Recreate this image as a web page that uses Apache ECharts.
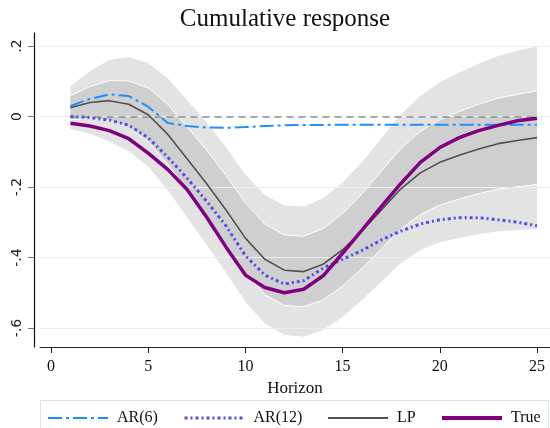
<!DOCTYPE html>
<html><head><meta charset="utf-8">
<script src="https://cdn.jsdelivr.net/npm/echarts@6/dist/echarts.min.js"></script>
<style>html,body{margin:0;padding:0;background:#fff}#c{width:550px;height:428px}</style>
</head><body><div id="c"></div>
<script>
const horizons = [1,2,3,4,5,6,7,8,9,10,11,12,13,14,15,16,17,18,19,20,21,22,23,24,25];
const ar6 = [0.030,0.050,0.063,0.058,0.028,-0.018,-0.027,-0.031,-0.032,-0.030,-0.027,-0.025,-0.024,-0.024,-0.023,-0.023,-0.023,-0.023,-0.023,-0.023,-0.023,-0.023,-0.023,-0.023,-0.023];
const ar12 = [0.000,-0.003,-0.010,-0.025,-0.060,-0.115,-0.175,-0.240,-0.310,-0.395,-0.450,-0.475,-0.466,-0.430,-0.405,-0.380,-0.350,-0.325,-0.305,-0.293,-0.287,-0.287,-0.293,-0.300,-0.310];
const lp = [0.025,0.040,0.045,0.035,0.005,-0.050,-0.120,-0.190,-0.265,-0.345,-0.405,-0.436,-0.440,-0.419,-0.378,-0.325,-0.265,-0.205,-0.160,-0.130,-0.110,-0.092,-0.077,-0.068,-0.060];
const truth = [-0.019,-0.027,-0.040,-0.063,-0.104,-0.150,-0.207,-0.285,-0.370,-0.450,-0.485,-0.500,-0.490,-0.452,-0.388,-0.322,-0.255,-0.190,-0.130,-0.088,-0.060,-0.040,-0.025,-0.012,-0.005];
const innerUp = [0.059,0.085,0.102,0.101,0.081,0.035,-0.030,-0.095,-0.167,-0.245,-0.305,-0.336,-0.340,-0.318,-0.275,-0.219,-0.155,-0.091,-0.042,-0.009,0.014,0.035,0.052,0.063,0.073];
const innerLo = [-0.009,-0.005,-0.012,-0.031,-0.071,-0.135,-0.210,-0.285,-0.363,-0.445,-0.505,-0.536,-0.540,-0.520,-0.481,-0.431,-0.375,-0.319,-0.278,-0.251,-0.234,-0.219,-0.206,-0.199,-0.193];
const outerUp = [0.087,0.130,0.162,0.170,0.153,0.110,0.048,-0.015,-0.085,-0.163,-0.221,-0.251,-0.254,-0.231,-0.186,-0.128,-0.060,0.007,0.060,0.098,0.126,0.151,0.173,0.188,0.200];
const outerLo = [-0.037,-0.050,-0.072,-0.100,-0.143,-0.210,-0.288,-0.365,-0.445,-0.527,-0.589,-0.621,-0.626,-0.607,-0.570,-0.522,-0.470,-0.417,-0.380,-0.358,-0.346,-0.335,-0.327,-0.324,-0.320];
const zeroRef = 0;
const xTickVals = [0,5,10,15,20,25];
const yTickVals = [-0.6,-0.4,-0.2,0,0.2];
const yTickLabels = ['-.6','-.4','-.2','0','.2'];
const seriesNames = ['AR(6)','AR(12)','LP','True'];

const pair = (ys) => horizons.map((h,i)=>[h, ys[i]]);
const serif = 'Liberation Serif';
const lightBand = '#e3e3e3', darkBand = '#cfcfcf';

const chart = echarts.init(document.getElementById('c'), null, {renderer:'canvas'});

function bandRender(params, api){
  if (params.dataIndex !== 0) return null;
  const pts = (arr) => horizons.map((h,i)=>api.coord([h, arr[i]]));
  const oU = pts(outerUp), oL = pts(outerLo), iU = pts(innerUp), iL = pts(innerLo);
  const edge = (p) => ({type:'polyline', shape:{points:p}, style:{stroke:'#fff', lineWidth:1, fill:null}});
  return {type:'group', children:[
    {type:'polygon', shape:{points:oU.concat(oL.slice().reverse())}, style:{fill:lightBand}},
    {type:'polygon', shape:{points:iU.concat(iL.slice().reverse())}, style:{fill:darkBand}},
    edge(iU), edge(iL), edge(oU), edge(oL)
  ]};
}

function legendFor(name, left, lineStyle, iw){
  return {data:[name], left:left, top:410, padding:0, itemWidth:iw, itemHeight:14, itemGap:10,
    textStyle:{fontFamily:serif, fontSize:16, color:'#111', padding:[0,0,0,4]},
    itemStyle:{opacity:0}, lineStyle:lineStyle, selectedMode:false};
}

chart.setOption({
  animation:false,
  backgroundColor:'#fff',
  title:{text:'Cumulative response', left:280, textAlign:'center', top:2,
    textStyle:{fontFamily:serif, fontSize:25, fontWeight:'normal', color:'#111'}},
  grid:{left:40, right:0, top:33, bottom:81},
  xAxis:{type:'value', min:-0.566, max:25.67,
    axisLine:{show:true, onZero:false, lineStyle:{color:'#222', width:1}},
    axisTick:{show:true, customValues:xTickVals, length:6, lineStyle:{color:'#222'}},
    axisLabel:{customValues:xTickVals, fontFamily:serif, fontSize:16, color:'#111', margin:12},
    splitLine:{show:false},
    name:'Horizon', nameLocation:'middle', nameGap:25,
    nameTextStyle:{fontFamily:serif, fontSize:17, color:'#111'}},
  yAxis:{type:'value', min:-0.654, max:0.237, offset:6,
    axisLine:{show:true, onZero:false, lineStyle:{color:'#111', width:1.2}},
    axisTick:{show:true, customValues:yTickVals, length:6, lineStyle:{color:'#777'}},
    axisLabel:{customValues:yTickVals, rotate:90, fontFamily:'DejaVu Sans', fontSize:14, color:'#222', margin:10,
      formatter:(v)=>{const i=yTickVals.findIndex(t=>Math.abs(t-v)<1e-6); return i>=0?yTickLabels[i]:'';}},
    splitLine:{show:false}},
  legend:[
    legendFor('AR(6)', 47, {width:2, type:[14,4,3,4]}, 60),
    legendFor('AR(12)', 183, {width:3, type:[3,3,2,3]}, 60),
    legendFor('LP', 327, {width:2}, 60),
    legendFor('True', 440, {width:4}, 60)
  ],
  graphic:[{type:'rect', shape:{x:40.5, y:400.5, width:508, height:60}, style:{fill:'none', stroke:'#dbe4e4', lineWidth:1}, z:-1, silent:true}],
  series:[
    {name:'grid', type:'line', symbol:'none', silent:true, z:1, data:pair(truth), lineStyle:{opacity:0},
      markLine:{silent:true, symbol:['none','none'], label:{show:false},
        lineStyle:{color:'#e9f0f0', width:1.2, type:'solid'}, data:yTickVals.map(v=>({yAxis:v}))}},
    {name:'band', type:'custom', silent:true, z:2, renderItem:bandRender,
      data:horizons.map((h,i)=>[h, outerLo[i], outerUp[i]]), encode:{x:0, y:[1,2]}},
    {name:'zeroline', type:'line', symbol:'none', silent:true, z:4, data:pair(ar6), lineStyle:{width:0, opacity:0},
      markLine:{silent:true, symbol:['none','none'], label:{show:false},
        lineStyle:{color:'#8f8f8f', width:1.6, type:[7,5], opacity:1},
        data:[[{coord:[horizons[0], zeroRef]}, {coord:[horizons[horizons.length-1], zeroRef]}]]}},
    {name:seriesNames[0], type:'line', symbol:'none', z:5, data:pair(ar6), itemStyle:{color:'#1e8fff'},
      lineStyle:{color:'#1e8fff', width:2, type:[14,4,3,4]}},
    {name:seriesNames[1], type:'line', symbol:'none', z:6, data:pair(ar12), itemStyle:{color:'#4f4fe8'},
      lineStyle:{color:'#4f4fe8', width:3, type:[3,3,2,3]}},
    {name:seriesNames[2], type:'line', symbol:'none', z:7, data:pair(lp), itemStyle:{color:'#505050'},
      lineStyle:{color:'#505050', width:1.6}},
    {name:seriesNames[3], type:'line', symbol:'none', z:8, data:pair(truth), itemStyle:{color:'#800080'},
      lineStyle:{color:'#800080', width:3.5}}
  ]
});
</script></body></html>
